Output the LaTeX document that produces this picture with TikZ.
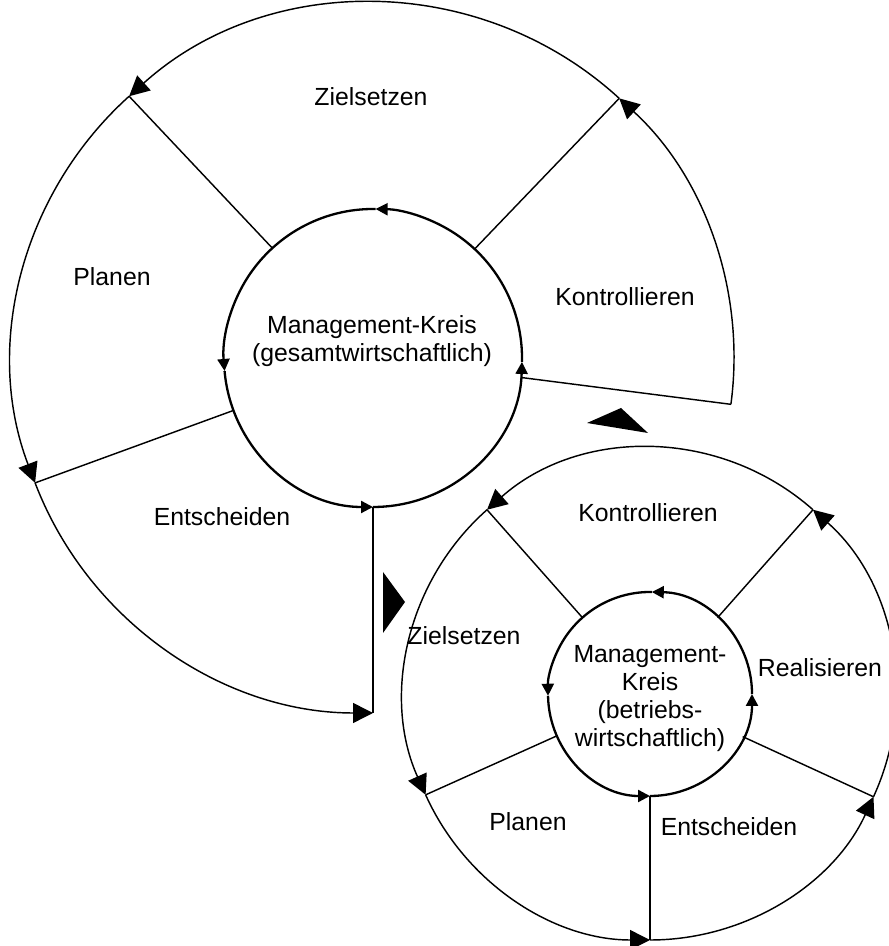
\documentclass[tikz,border=0pt]{standalone}
\usepackage{fontspec}
\setmainfont{Liberation Sans}
\usetikzlibrary{arrows.meta,calc}
\begin{document}
\begin{tikzpicture}[x=0.5pt,y=0.5pt,
  flow/.style={line width=0.72pt},
  ring/.style={line width=1.15pt},
  bigtip/.style={-{Triangle[length=10pt,width=10pt]}},
  smalltip/.style={-{Triangle[length=6pt,width=6pt]}},
  lbl/.style={font=\fontsize{12.4}{14}\selectfont, inner sep=0pt, align=center},
  wedge/.style={fill=black, draw=none}]
\useasboundingbox (0,0) rectangle (888,946);

% ---------- overall (gesamtwirtschaftlich) cycle ----------
\coordinate (cb) at (373,588);
\foreach \a/\n in {47/a,132.5/b,200.6/c,270/d,-7.5/e} {
  \coordinate (bi\n) at ($(cb)+(\a:149)$);
  \coordinate (bo\n) at ($(cb)+(\a:361 and 355)$);
  \draw[flow] (bi\n) -- (bo\n);
}
% outer phases, running counter-clockwise
\draw[flow,bigtip] (boe) arc[start angle=-7.5, end angle=47,  x radius=180.5pt, y radius=177.5pt];
\draw[flow,bigtip] (boa) arc[start angle=47,   end angle=132.5, x radius=180.5pt, y radius=177.5pt];
\draw[flow,bigtip] (bob) arc[start angle=132.5, end angle=200.6, x radius=180.5pt, y radius=177.5pt];
\draw[flow,bigtip] (boc) arc[start angle=200.6, end angle=270, x radius=180.5pt, y radius=177.5pt];
% inner ring
\draw[ring,smalltip] ($(cb)+(-1.5:149)$) arc[start angle=-1.5, end angle=89,  radius=74.5pt];
\draw[ring,smalltip] ($(cb)+(89:149)$)   arc[start angle=89,   end angle=185, radius=74.5pt];
\draw[ring,smalltip] ($(cb)+(185:149)$)  arc[start angle=185,  end angle=270, radius=74.5pt];
\draw[ring,smalltip] ($(cb)+(270:149)$)  arc[start angle=270,  end angle=358.5, radius=74.5pt];

\node[lbl] (bz) at (371,849) {Zielsetzen};
\node[lbl] (bp) at (112,669) {Planen};
\node[lbl] (bk) at (625,649) {Kontrollieren};
\node[lbl] (be) at (222,429) {Entscheiden};
\node[lbl] (bm) at (372,605) {Management-Kreis\\(gesamtwirtschaftlich)};

% ---------- hand-over wedges ----------
\fill[wedge] (587,523) -- (621,538) -- (648,513) -- cycle;
\fill[wedge] (383,374) -- (405,344) -- (383,313) -- cycle;

% ---------- company (betriebswirtschaftlich) cycle ----------
\coordinate (cs) at (650,252);
\foreach \a/\n in {48.5/a,131.5/b,204.2/c,270/d,-24.7/e} {
  \coordinate (si\n) at ($(cs)+(\a:102)$);
  \coordinate (so\n) at ($(cs)+(\a:246)$);
  \draw[flow] (si\n) -- (so\n);
}
\draw[flow,bigtip] (soe) arc[start angle=-24.7, end angle=48.5,  radius=123pt];
\draw[flow,bigtip] (soa) arc[start angle=48.5,  end angle=131.5, radius=123pt];
\draw[flow,bigtip] (sob) arc[start angle=131.5, end angle=204.2, radius=123pt];
\draw[flow,bigtip] (soc) arc[start angle=204.2, end angle=270,   radius=123pt];
\draw[flow,bigtip] (sod) arc[start angle=270,   end angle=335.3, radius=123pt];
% inner ring
\draw[ring,smalltip] ($(cs)+(0:102)$)   arc[start angle=0,   end angle=89,  radius=51pt];
\draw[ring,smalltip] ($(cs)+(89:102)$)  arc[start angle=89,  end angle=181, radius=51pt];
\draw[ring,smalltip] ($(cs)+(181:102)$) arc[start angle=181, end angle=270, radius=51pt];
\draw[ring,smalltip] ($(cs)+(270:102)$) arc[start angle=270, end angle=360, radius=51pt];

\node[lbl] (sk) at (648,433) {Kontrollieren};
\node[lbl] (sz) at (464,310) {Zielsetzen};
\node[lbl] (sr) at (820,278) {Realisieren};
\node[lbl] (sp) at (528,124) {Planen};
\node[lbl] (se) at (729,119) {Entscheiden};
\node[lbl] (sm) at (650,247) {Management-\\Kreis\\(betriebs-\\wirtschaftlich)};
\end{tikzpicture}
\end{document}
